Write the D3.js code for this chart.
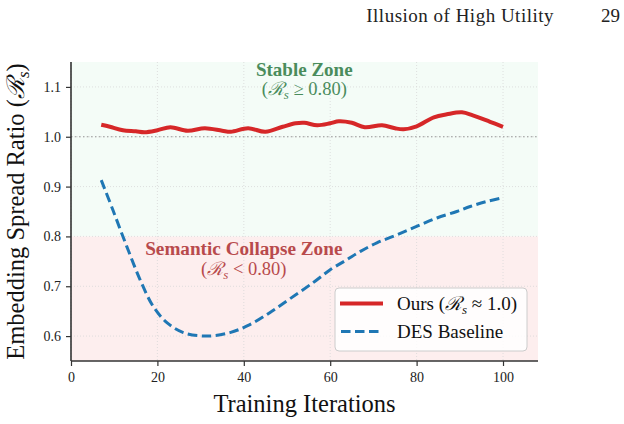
<!DOCTYPE html>
<html><head><meta charset="utf-8">
<script src="https://cdn.jsdelivr.net/npm/d3@7"></script>
<style>body{margin:0;background:#fff}svg{display:block}text{font-family:"Liberation Serif","DejaVu Serif",serif}</style>
</head><body><svg id="c" width="624" height="424"></svg>
<script>
const oursIter = [7,9,12,15,17,20,23,27,31,35,37,41,45,49,52,54,57,60,62,65,68,72,75,77,80,84,87,90.5,93,97,100];
const oursVal  = [1.024,1.020,1.013,1.011,1.009,1.013,1.019,1.012,1.017,1.012,1.010,1.017,1.010,1.020,1.027,1.028,1.023,1.027,1.031,1.028,1.019,1.023,1.017,1.015,1.021,1.039,1.045,1.049,1.043,1.030,1.020];
const desIter = [7,9.7,12.9,16,19,22.2,26,31.4,36.8,41.4,46,50.7,56,60,63.8,67,70.8,75.4,80,84.7,89.3,92.4,96.2,99.7];
const desVal  = [0.913,0.853,0.780,0.713,0.660,0.627,0.607,0.600,0.607,0.623,0.647,0.675,0.707,0.733,0.753,0.770,0.787,0.803,0.820,0.837,0.850,0.860,0.870,0.877];
const xTicks = [0,20,40,60,80,100];
const yTicks = [0.6,0.7,0.8,0.9,1.0,1.1];
const threshold = 0.8;

const svg = d3.select("#c");
const L=71,R=538,T=62,B=361;
const x = d3.scaleLinear().domain([0,108.1]).range([L,R]);
const y = d3.scaleLinear().domain([0.55,1.15]).range([B,T]);

// header
svg.append("text").attr("x",554).attr("y",22).attr("text-anchor","end").attr("font-size",19).attr("letter-spacing",0.5).attr("fill","#222").text("Illusion of High Utility");
svg.append("text").attr("x",620).attr("y",22).attr("text-anchor","end").attr("font-size",19).attr("fill","#222").text("29");

// zones
svg.append("rect").attr("x",L).attr("y",y(1.15)).attr("width",R-L).attr("height",y(threshold)-y(1.15)).attr("fill","#f4fcf7");
svg.append("rect").attr("x",L).attr("y",y(threshold)).attr("width",R-L).attr("height",y(0.55)-y(threshold)).attr("fill","#fdeeee");

// grid
const g = svg.append("g");
xTicks.forEach(t=>g.append("line").attr("x1",x(t)).attr("x2",x(t)).attr("y1",T).attr("y2",B).attr("stroke","#d8d8d8").attr("stroke-width",0.8).attr("stroke-dasharray","1,2"));
yTicks.forEach(t=>g.append("line").attr("x1",L).attr("x2",R).attr("y1",y(t)).attr("y2",y(t)).attr("stroke","#d8d8d8").attr("stroke-width",0.8).attr("stroke-dasharray","1,2"));
svg.append("line").attr("x1",L).attr("x2",R).attr("y1",y(1.0)).attr("y2",y(1.0)).attr("stroke","#999").attr("stroke-width",1.2).attr("stroke-dasharray","1.5,2.5");

// zone labels (two lines in one text element)
const green="#4a8c5c", red="#b84a4c";
function zoneLabel(cx, y1, title, rel, fs1, color){
  const t = svg.append("text").attr("x",cx).attr("y",y1).attr("text-anchor","middle").attr("fill",color);
  t.append("tspan").attr("x",cx).attr("font-size",fs1).attr("font-weight","bold").text(title);
  t.append("tspan").attr("x",cx).attr("dy",19.5).attr("font-size",18.5).text("(");
  t.append("tspan").attr("font-size",18.5).attr("font-style","italic").text("ℛ");
  t.append("tspan").attr("font-size",13).attr("font-style","italic").attr("dy",4).text("s");
  t.append("tspan").attr("font-size",18.5).attr("dy",-4).text(rel);
}
zoneLabel(x(54), 75.5, "Stable Zone", " ≥ 0.80)", 19, green);
zoneLabel(x(40), 255, "Semantic Collapse Zone", " < 0.80)", 19.2, red);

// lines
const line = d3.line().x(d=>x(d[0])).y(d=>y(d[1])).curve(d3.curveCatmullRom.alpha(0.5));
svg.append("path").datum(desIter.map((v,i)=>[v,desVal[i]])).attr("d",line).attr("fill","none").attr("stroke","#1f77b4").attr("stroke-width",3).attr("stroke-dasharray","9.5,4.5");
svg.append("path").datum(oursIter.map((v,i)=>[v,oursVal[i]])).attr("d",line).attr("fill","none").attr("stroke","#d62728").attr("stroke-width",4).attr("stroke-linejoin","round");

// axes
const xa = svg.append("g").attr("transform",`translate(0,${B})`).call(d3.axisBottom(x).tickValues(xTicks).tickSize(5).tickPadding(6).tickFormat(d3.format("d")));
const ya = svg.append("g").attr("transform",`translate(${L},0)`).call(d3.axisLeft(y).tickValues(yTicks).tickSize(5).tickPadding(5).tickFormat(d3.format(".1f")));
[xa,ya].forEach(a=>{a.select(".domain").attr("stroke","#333").attr("stroke-width",1.6);a.selectAll(".tick line").attr("stroke","#333").attr("stroke-width",1.2);a.selectAll("text").attr("font-size",14).attr("fill","#222").attr("font-family","Liberation Serif, serif");});
xa.select(".domain").attr("d",`M${L},0H${R}`);
ya.select(".domain").attr("d",`M0,${B}V${T}`);

// axis labels
svg.append("text").attr("x",(L+R)/2).attr("y",412).attr("text-anchor","middle").attr("font-size",24.5).attr("fill","#111").text("Training Iterations");
const yl=svg.append("text").attr("transform",`translate(24,${(T+B)/2}) rotate(-90)`).attr("text-anchor","middle").attr("font-size",24.5).attr("fill","#111");
yl.append("tspan").text("Embedding Spread Ratio (");
yl.append("tspan").attr("font-style","italic").text("ℛ");
yl.append("tspan").attr("font-style","italic").attr("font-size",17).attr("dy",5).text("s");
yl.append("tspan").attr("dy",-5).text(")");

// legend
const lg = svg.append("g");
lg.append("rect").attr("x",335).attr("y",288).attr("width",192).attr("height",63).attr("rx",4).attr("fill","#fff").attr("fill-opacity",0.85).attr("stroke","#ccc").attr("stroke-width",1);
lg.append("line").attr("x1",340).attr("x2",383).attr("y1",303.5).attr("y2",303.5).attr("stroke","#d62728").attr("stroke-width",4);
lg.append("line").attr("x1",341).attr("x2",383).attr("y1",331.5).attr("y2",331.5).attr("stroke","#1f77b4").attr("stroke-width",3).attr("stroke-dasharray","9.5,4.5");
const l1=lg.append("text").attr("x",397).attr("y",310).attr("font-size",19).attr("fill","#111");
l1.append("tspan").text("Ours (");
l1.append("tspan").attr("font-style","italic").text("ℛ");
l1.append("tspan").attr("font-style","italic").attr("font-size",13).attr("dy",4).text("s");
l1.append("tspan").attr("dy",-4).text(" ≈ 1.0)");
lg.append("text").attr("x",397).attr("y",338).attr("font-size",19).attr("fill","#111").text("DES Baseline");
</script></body></html>
